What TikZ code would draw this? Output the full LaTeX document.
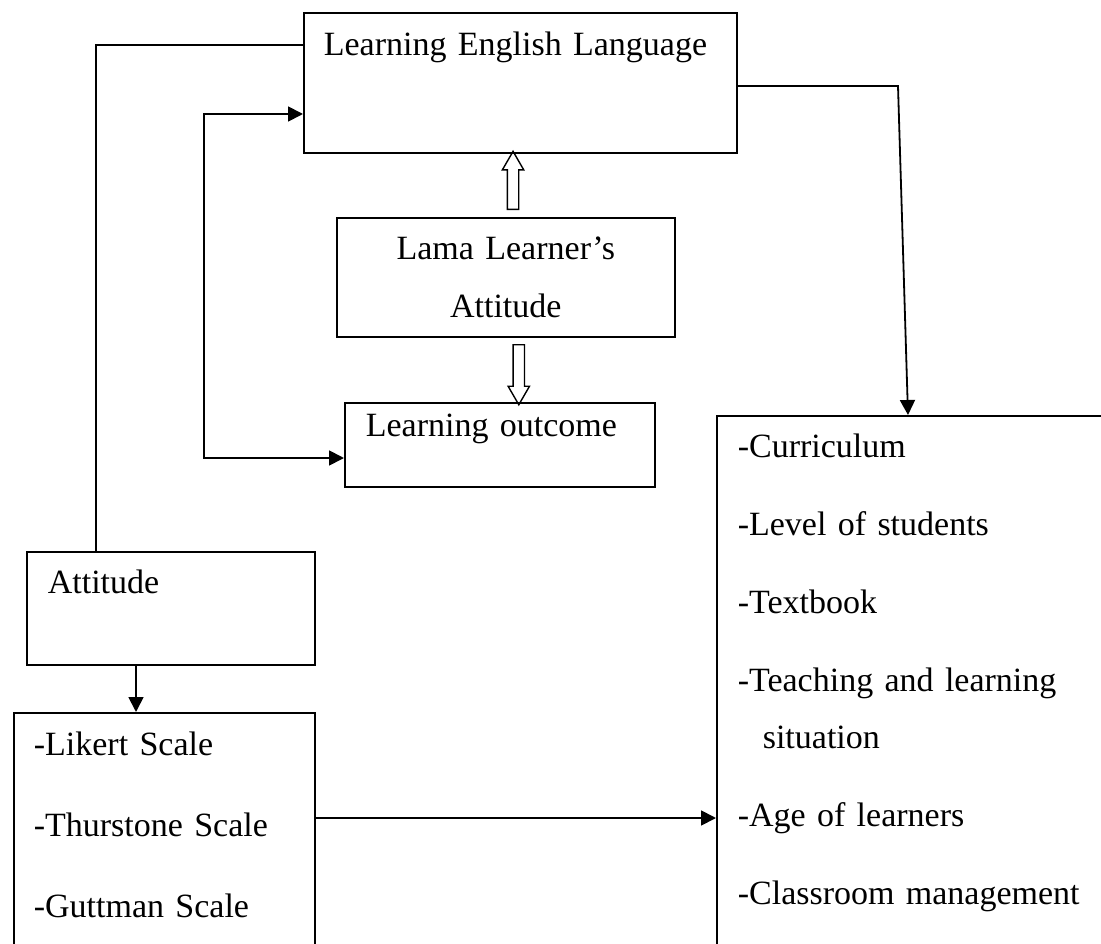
\documentclass[tikz,border=0pt]{standalone}
\usepackage{fontspec}
\setmainfont{Liberation Serif}
\usetikzlibrary{arrows.meta,shapes.arrows,calc}

\begin{document}
\begin{tikzpicture}[x=1pt,y=-1pt,
  box/.style={draw, line width=1.6pt, anchor=north west, inner ysep=0pt, align=left, font=\fontsize{34}{57}\selectfont},
  arr/.style={line width=1.8pt, -{Triangle[length=15pt,width=15pt]}},
  hollow/.style={single arrow, draw, line width=1.4pt, inner xsep=0pt, inner ysep=5pt, single arrow head extend=5pt, single arrow tip angle=60, single arrow head indent=0pt}]
\clip (0,0) rectangle (1101,944);
\node[box, inner xsep=20pt, text width=393pt, text height=43pt, text depth=97pt] (lel) at (303,12) {Learning English Language};
\node[box, inner xsep=0pt, align=center, text width=338pt, text height=42pt, text depth=77pt, font=\fontsize{34}{58}\selectfont] (lla) at (336,217) {Lama Learner’s\\Attitude};
\node[box, inner xsep=21pt, text width=268pt, text height=34pt, text depth=50pt] (lo) at (344,402) {Learning outcome};
\node[box, inner xsep=21pt, text width=246pt, text height=42pt, text depth=71pt] (att) at (26,551) {Attitude};
\node[box, inner xsep=20pt, text width=261pt, text height=43pt, text depth=300pt, font=\fontsize{34}{81}\selectfont] (sc) at (13,712) {-Likert Scale\\-Thurstone Scale\\-Guttman Scale};
\node[box, inner xsep=21pt, text width=362pt, text height=42pt, text depth=600pt] (fac) at (716,415) {-Curriculum\\[21pt]-Level of students\\[21pt]-Textbook\\[21pt]-Teaching and learning\\\hspace*{25pt}situation\\[21pt]-Age of learners\\[21pt]-Classroom management};
% hollow arrows
\node[hollow, rotate=90, minimum height=58pt] (up) at ($(lla.north)!0.5!(lel.south)$) {};
\node[hollow, rotate=-90, minimum height=60pt] (down) at ($(lla.south)!0.5!(lo.north)+(16,0)$) {};
% connectors
\draw[line width=1.6pt] ([xshift=70pt]att.north west) |- ([yshift=-33pt]lel.north west);
\draw[line width=1.8pt, {Triangle[length=15pt,width=15pt]}-{Triangle[length=15pt,width=15pt]}] ([yshift=-102pt]lel.north west) -| (204,458) -- ([yshift=-56pt]lo.north west);
\draw[arr] ([yshift=-74pt]lel.north east) -- (898,86) -- ([xshift=192pt]fac.north west);
\draw[arr] ([xshift=110pt]att.south west) -- ([xshift=123pt]sc.north west);
\draw[arr] (sc.east |- 0,818) -- (fac.west |- 0,818);
\end{tikzpicture}
\end{document}
